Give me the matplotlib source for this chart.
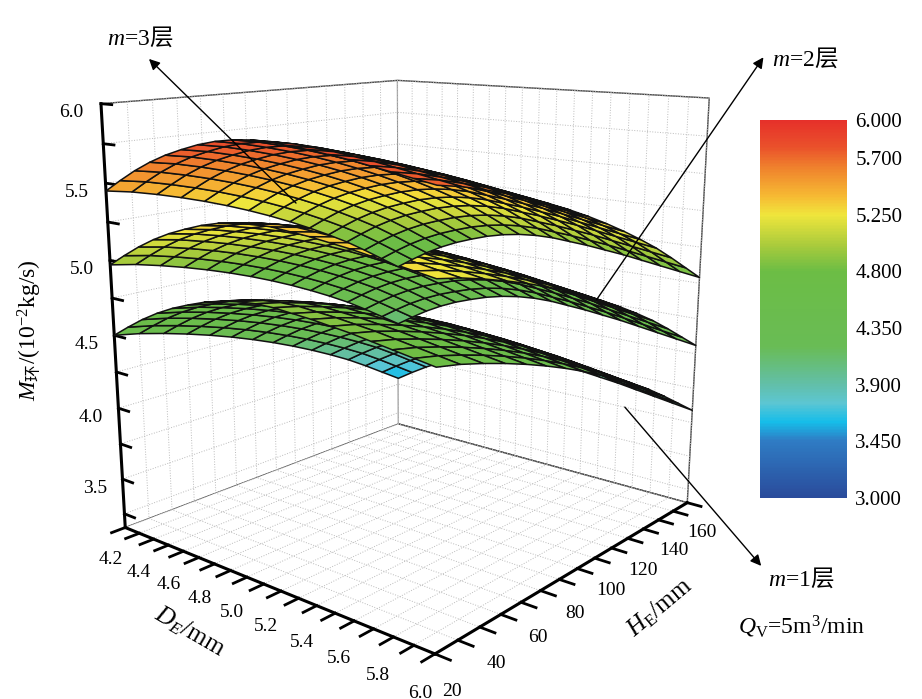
import numpy as np
import matplotlib
matplotlib.use('Agg')
import matplotlib.pyplot as plt
from matplotlib import cm
from matplotlib.colors import LinearSegmentedColormap, Normalize

plt.rcParams['font.family'] = ['Liberation Serif', 'Noto Sans CJK SC']
plt.rcParams['mathtext.fontset'] = 'custom'
plt.rcParams['mathtext.rm'] = 'Liberation Serif'
plt.rcParams['mathtext.it'] = 'Liberation Serif:italic'
plt.rcParams['mathtext.sf'] = 'Noto Sans CJK SC'
plt.rcParams['mathtext.fallback'] = 'stix'

# grid of the response surfaces
d_e = [4.2, 4.3, 4.4, 4.5, 4.6, 4.7, 4.8, 4.9, 5.0, 5.1,
       5.2, 5.3, 5.4, 5.5, 5.6, 5.7, 5.8, 5.9, 6.0]
h_e = [20, 30, 40, 50, 60, 70, 80, 90, 100, 110, 120, 130, 140, 150, 160]

# profile along D_E (change from D_E=4.2)
d_profile = [0.0, 0.08, 0.155, 0.22, 0.275, 0.32, 0.36, 0.39, 0.41, 0.42,
             0.42, 0.41, 0.40, 0.385, 0.37, 0.35, 0.33, 0.31, 0.29]
# profile along H_E (change from H_E=20)
h_profile = [0.0, -0.03, -0.07, -0.115, -0.165, -0.22, -0.28, -0.345, -0.415,
             -0.49, -0.57, -0.655, -0.75, -0.85, -0.95]
# value at D_E=4.2, H_E=20 for each layer
layers = {'m=1': 4.50, 'm=2': 4.97, 'm=3': 5.45}

cbar_ticks = [3.0, 3.45, 3.9, 4.35, 4.8, 5.25, 5.7, 6.0]
x_ticks = [4.2, 4.3, 4.4, 4.5, 4.6, 4.7, 4.8, 4.9, 5.0, 5.1,
           5.2, 5.3, 5.4, 5.5, 5.6, 5.7, 5.8, 5.9, 6.0]
x_labels = ['4.2', '', '4.4', '', '4.6', '', '4.8', '', '5.0', '',
            '5.2', '', '5.4', '', '5.6', '', '5.8', '', '6.0']
y_ticks = [20, 30, 40, 50, 60, 70, 80, 90, 100, 110, 120, 130, 140, 150, 160]
y_labels = ['20', '', '40', '', '60', '', '80', '', '100', '', '120', '',
            '140', '', '160']
z_ticks = [3.25, 3.5, 3.75, 4.0, 4.25, 4.5, 4.75, 5.0, 5.25, 5.5, 5.75, 6.0]
z_labels = ['', '3.5', '', '4.0', '', '4.5', '', '5.0', '', '5.5', '', '6.0']

colors = [(0.0, '#2a4b9b'), (0.15, '#2f7cc4'), (0.2, '#16bde9'),
          (0.25, '#5cc6d3'), (0.3, '#62bfa8'), (0.4, '#69bc55'),
          (0.6, '#6cbd45'), (0.67, '#aacb3c'), (0.75, '#f0e63c'),
          (0.8, '#f6b933'), (0.87, '#f0862d'), (0.93, '#ea512b'),
          (1.0, '#e6302a')]
cmap = LinearSegmentedColormap.from_list('origin', colors)
norm = Normalize(vmin=3.0, vmax=6.0)

fig = plt.figure(figsize=(9.22, 6.99), dpi=100)
ax = fig.add_axes([0.058, 0.055, 0.76, 0.96], projection='3d',
                  proj_type='persp', focal_length=0.36)
ax.computed_zorder = False

D, H = np.meshgrid(d_e, h_e)
base = np.add.outer(np.array(h_profile), np.array(d_profile))
for name in ['m=1', 'm=2', 'm=3']:
    Z = base + layers[name]
    ax.plot_surface(D, H, Z, cmap=cmap, norm=norm, rstride=1, cstride=1,
                    edgecolor='#111111', linewidth=1.1, shade=False,
                    antialiased=True)

ax.set_xlim(4.2, 6.0)
ax.set_ylim(20, 160)
ax.set_zlim(3.15, 6.0)
ax.set_box_aspect((0.95, 1.0, 1.0), zoom=1.05)
ax.view_init(elev=14, azim=-50)

ax.set_xticks(x_ticks)
ax.set_xticklabels(x_labels)
ax.set_yticks(y_ticks)
ax.set_yticklabels(y_labels)
ax.set_zticks(z_ticks)
ax.set_zticklabels(z_labels)
ax.zaxis._axinfo['juggled'] = (1, 2, 0)

for axis in (ax.xaxis, ax.yaxis, ax.zaxis):
    axis.set_pane_color((1, 1, 1, 1))
    axis.pane.set_edgecolor('#444444')
    axis.line.set_linewidth(2.2)
    axis._axinfo['grid'].update(color='#bbbbbb', linewidth=0.7, linestyle=':')
    axis._axinfo['tick'].update(inward_factor=0.5, outward_factor=0.0)
    axis._axinfo['tick']['linewidth'] = {True: 2.0, False: 1.0}
    axis.set_tick_params(labelsize=14)

fig.text(190 / 922, 1 - 632 / 699, r'$D_E$/mm', fontsize=18, rotation=-30,
         ha='center', va='center')
fig.text(660 / 922, 1 - 608 / 699, r'$H_{\rm E}$/mm', fontsize=18, rotation=40,
         ha='center', va='center')
fig.text(30 / 922, 1 - 330 / 699, r'$M_{\mathsf{环}}/(10^{-2}\mathrm{kg/s})$',
         fontsize=17, rotation=90, ha='center', va='center')

cax = fig.add_axes([760 / 922, 1 - 498 / 699, 87 / 922, 378 / 699])
sm = cm.ScalarMappable(norm=norm, cmap=cmap)
cb = fig.colorbar(sm, cax=cax, ticks=cbar_ticks, format='%.3f')
cb.outline.set_visible(False)
cb.ax.tick_params(length=0, labelsize=15, pad=6)

arrow = dict(arrowstyle='-|>', color='black', lw=1.0, mutation_scale=16)
fig.patch.set_facecolor('white')
H_PX = 699
ax.annotate('', xy=(147, H_PX - 57), xytext=(298, H_PX - 205),
            xycoords='figure pixels', arrowprops=arrow)
ax.annotate('', xy=(765, H_PX - 55), xytext=(595, H_PX - 302),
            xycoords='figure pixels', arrowprops=arrow)
ax.annotate('', xy=(763, H_PX - 568), xytext=(623, H_PX - 405),
            xycoords='figure pixels', arrowprops=arrow)
fig.text(107 / 922, 1 - 37 / 699, r'$m$=3$\mathsf{层}$', fontsize=17, va='center')
fig.text(772 / 922, 1 - 58 / 699, r'$m$=2$\mathsf{层}$', fontsize=17, va='center')
fig.text(768 / 922, 1 - 578 / 699, r'$m$=1$\mathsf{层}$', fontsize=17, va='center')
fig.text(738 / 922, 1 - 627 / 699, r'$Q_{\rm V}$=5m$^3$/min', fontsize=17,
         va='center')

fig.savefig('out.png', dpi=100)
